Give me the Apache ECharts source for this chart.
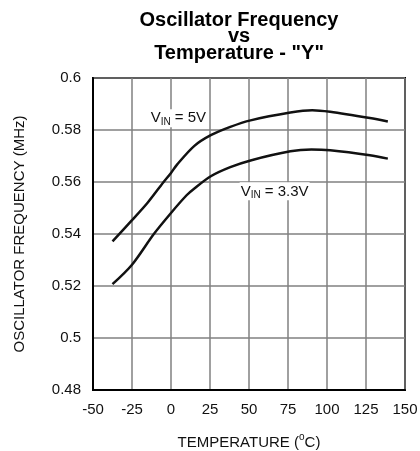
<!DOCTYPE html>
<html>
<head>
<meta charset="utf-8">
<script src="https://cdn.jsdelivr.net/npm/echarts@6/dist/echarts.min.js"></script>
<style>
html,body{margin:0;padding:0;background:#fff;}
#c{width:420px;height:451px;}
</style>
</head>
<body>
<div id="c"></div>
<script>
// Data
const xTicks = [-50, -25, 0, 25, 50, 75, 100, 125, 150];
const yTicks = [0.48, 0.5, 0.52, 0.54, 0.56, 0.58, 0.6];

const temp5V = [-37.5, -25, -15, -5, 0, 4, 15, 25.5, 38, 51, 76.5, 90.5, 102, 127.5, 139];
const freq5V = [0.5372, 0.5453, 0.5520, 0.5598, 0.5635, 0.5668, 0.5739, 0.5780, 0.5812, 0.5837, 0.5867, 0.5876, 0.5870, 0.5846, 0.5833];

const temp33V = [-37.5, -25, -11, 0, 10, 15, 25.5, 38, 51, 76.5, 90, 102, 127.5, 139];
const freq33V = [0.5207, 0.5282, 0.5400, 0.5481, 0.5549, 0.5575, 0.5622, 0.5657, 0.5683, 0.5718, 0.5725, 0.5722, 0.5703, 0.5690];

const label5V = {t: -13.7, v: 0.5845};
const label33V = {t: 44, v: 0.5564};

const FONT = '"Liberation Sans", Arial, sans-serif';

function pairs(xs, ys) { return xs.map((x, i) => [x, ys[i]]); }

const chart = echarts.init(document.getElementById('c'), null, {renderer: 'canvas'});

const richLbl = {
  n: {fontSize: 15, fontFamily: FONT, color: '#111', lineHeight: 18},
  s: {fontSize: 10, fontFamily: FONT, color: '#111', verticalAlign: 'bottom', lineHeight: 13}
};

function markLabel(pt, txt) {
  return {
    symbol: 'circle', symbolSize: 0,
    data: [{coord: [pt.t, pt.v], value: ''}],
    label: {
      show: true, position: 'right', distance: 0,
      formatter: txt,
      backgroundColor: '#fff', padding: [0, 1, 0, 1],
      rich: richLbl
    }
  };
}

chart.setOption({
  backgroundColor: '#fff',
  animation: false,
  title: {
    text: 'Oscillator Frequency\nvs\nTemperature - "Y"',
    left: 234, top: 7, textAlign: 'center',
    textStyle: {fontFamily: FONT, fontSize: 20, fontWeight: 'bold', lineHeight: 16.5, color: '#000'}
  },
  grid: {left: 93, right: 15, top: 78, bottom: 61, show: true, borderColor: '#000', borderWidth: 2,
         containLabel: false, outerBoundsMode: 'none'},
  xAxis: {
    type: 'value', min: xTicks[0], max: xTicks[xTicks.length - 1], interval: 25,
    name: 'TEMPERATURE ({sup|o}C)', nameLocation: 'middle', nameGap: 42,
    nameTextStyle: {fontFamily: FONT, fontSize: 15, color: '#111',
      rich: {sup: {fontSize: 10, fontFamily: FONT, color: '#111', verticalAlign: 'top', lineHeight: 22}}},
    axisLine: {onZero: false, lineStyle: {color: '#000', width: 2}},
    axisTick: {show: false},
    axisLabel: {fontFamily: FONT, fontSize: 15, color: '#111', margin: 12},
    splitLine: {show: true, lineStyle: {color: '#808080', width: 1.5}}
  },
  yAxis: {
    type: 'value', min: yTicks[0], max: yTicks[yTicks.length - 1], interval: 0.02,
    name: 'OSCILLATOR FREQUENCY (MHz)', nameLocation: 'middle', nameGap: 66,
    nameTextStyle: {fontFamily: FONT, fontSize: 15, color: '#111'},
    axisLine: {onZero: false, lineStyle: {color: '#000', width: 2}},
    axisTick: {show: false},
    axisLabel: {fontFamily: FONT, fontSize: 15, color: '#111', margin: 12,
      formatter: v => String(parseFloat(v.toFixed(2)))},
    splitLine: {show: true, lineStyle: {color: '#808080', width: 1.5}}
  },
  series: [
    {
      type: 'line', data: pairs(temp5V, freq5V), smooth: 0.3, symbol: 'none',
      lineStyle: {color: '#111', width: 2.5},
      markPoint: markLabel(label5V, '{n|V}{s|IN}{n| = 5V}'),
      z: 3
    },
    {
      type: 'line', data: pairs(temp33V, freq33V), smooth: 0.3, symbol: 'none',
      lineStyle: {color: '#111', width: 2.5},
      markPoint: markLabel(label33V, '{n|V}{s|IN}{n| = 3.3V}'),
      z: 3
    }
  ]
});
</script>
</body>
</html>
